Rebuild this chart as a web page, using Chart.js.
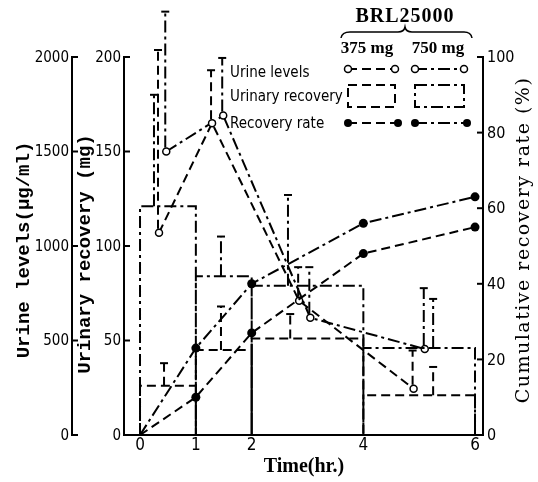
<!DOCTYPE html>
<html>
<head>
<meta charset="utf-8">
<script src="https://cdn.jsdelivr.net/npm/chart.js@4.4.0/dist/chart.umd.min.js"></script>
<style>
  html, body { margin: 0; padding: 0; background: #fff; }
</style>
</head>
<body>
<canvas id="brl-chart" width="538" height="482"></canvas>
<script>
// tick labels
var timeTicks = [0, 1, 2, 4, 6];
var urineTicks = [0, 500, 1000, 1500, 2000];
var mgTicks = [0, 50, 100, 150, 200];
var rateTicks = [0, 20, 40, 60, 80, 100];

// urine levels (ug/ml), open circles
var urineTime375 = [0.34, 1.29, 2.85, 4.9];
var urine375 = [1070, 1650, 710, 245];
var urineSd375 = [967, 280, 178, 202];
var urineTime750 = [0.47, 1.49, 3.05, 5.1];
var urine750 = [1500, 1690, 620, 455];
var urineSd750 = [740, 305, 268, 322];

// urinary recovery (mg) per collection period
var periodEdges = [0, 1, 2, 4, 6];
var recovery375 = [26, 45, 51, 21];
var recovery750 = [121, 84, 79, 46];
var recoverySd375 = [12, 23, 13, 15];
var recoverySd750 = [59, 21, 48, 26];
var recoveryBarTime375 = [0.43, 1.45, 2.69, 5.25];
var recoveryBarTime750 = [0.25, 1.45, 2.65, 5.25];

// cumulative recovery rate (%)
var rateTime = [0, 1, 2, 4, 6];
var rate375 = [0, 10, 27, 48, 55];
var rate750 = [0, 23, 40, 56, 63];

var DASH = [9, 5];
var DASH_DOT = [12, 4, 3, 4];

function pairs(xs, ys) {
  var out = [];
  for (var i = 0; i < xs.length; i++) out.push({x: xs[i], y: ys[i]});
  return out;
}

// each period drawn as an open box from 0 up to the recovered amount
function blockPath(edges, values) {
  var pts = [];
  for (var i = 0; i < values.length; i++) {
    pts.push({x: edges[i], y: 0});
    pts.push({x: edges[i], y: values[i]});
    pts.push({x: edges[i + 1], y: values[i]});
    pts.push({x: edges[i + 1], y: 0});
  }
  return pts;
}

function line(ctx, x1, y1, x2, y2) {
  ctx.beginPath();
  ctx.moveTo(x1, y1);
  ctx.lineTo(x2, y2);
  ctx.stroke();
}

function errorBar(ctx, x, yFrom, yTo, dash) {
  ctx.setLineDash(dash);
  line(ctx, x, yFrom, x, yTo);
  ctx.setLineDash([]);
  line(ctx, x - 4, yTo, x + 4, yTo);
}

var errorBars = {
  id: 'errorBars',
  afterDatasetsDraw: function (chart) {
    var ctx = chart.ctx;
    var sx = chart.scales.x, sm = chart.scales.yMg, su = chart.scales.yUrine;
    ctx.save();
    ctx.strokeStyle = '#000';
    ctx.lineWidth = 2;
    var i;
    for (i = 0; i < urine375.length; i++) {
      errorBar(ctx, sx.getPixelForValue(urineTime375[i]) - 1, su.getPixelForValue(urine375[i]) - 4,
        su.getPixelForValue(urine375[i] + urineSd375[i]), DASH);
    }
    for (i = 0; i < urine750.length; i++) {
      errorBar(ctx, sx.getPixelForValue(urineTime750[i]) - 1, su.getPixelForValue(urine750[i]) - 4,
        su.getPixelForValue(urine750[i] + urineSd750[i]), DASH_DOT);
    }
    for (i = 0; i < recovery375.length; i++) {
      errorBar(ctx, sx.getPixelForValue(recoveryBarTime375[i]), sm.getPixelForValue(recovery375[i]),
        sm.getPixelForValue(recovery375[i] + recoverySd375[i]), DASH);
    }
    for (i = 0; i < recovery750.length; i++) {
      errorBar(ctx, sx.getPixelForValue(recoveryBarTime750[i]), sm.getPixelForValue(recovery750[i]),
        sm.getPixelForValue(recovery750[i] + recoverySd750[i]), DASH_DOT);
    }
    ctx.restore();
  }
};

function vText(ctx, text, x, y) {
  ctx.save();
  ctx.translate(x, y);
  ctx.rotate(-Math.PI / 2);
  ctx.fillText(text, 0, 0);
  ctx.restore();
}

var axesAndKey = {
  id: 'axesAndKey',
  afterDraw: function (chart) {
    var ctx = chart.ctx;
    var sx = chart.scales.x, sm = chart.scales.yMg, su = chart.scales.yUrine, sr = chart.scales.yRate;
    var i, y;
    ctx.save();
    ctx.strokeStyle = '#000';
    ctx.fillStyle = '#000';
    ctx.lineWidth = 2;
    ctx.setLineDash([]);

    // outer left axis: urine levels
    var ux = 72;
    line(ctx, ux, su.getPixelForValue(0), ux, su.getPixelForValue(2000));
    ctx.font = '15px "DejaVu Sans Condensed"';
    ctx.textAlign = 'right';
    ctx.textBaseline = 'middle';
    for (i = 0; i < urineTicks.length; i++) {
      y = su.getPixelForValue(urineTicks[i]);
      line(ctx, ux - 1, y, ux + 6, y);
      ctx.fillText(String(urineTicks[i]), ux - 3, y + 1);
    }

    // inner left axis: urinary recovery
    var mx = chart.chartArea.left;
    line(ctx, mx, sm.getPixelForValue(0), mx, sm.getPixelForValue(200));
    for (i = 0; i < mgTicks.length; i++) {
      y = sm.getPixelForValue(mgTicks[i]);
      line(ctx, mx - 1, y, mx + 6, y);
      ctx.fillText(String(mgTicks[i]), mx - 3, y + 1);
    }

    // time axis
    var by = sm.getPixelForValue(0);
    line(ctx, mx, by, sx.getPixelForValue(6) + 2, by);
    ctx.font = '17px "DejaVu Sans Condensed"';
    ctx.textAlign = 'center';
    ctx.textBaseline = 'top';
    for (i = 0; i < timeTicks.length; i++) {
      ctx.fillText(String(timeTicks[i]), sx.getPixelForValue(timeTicks[i]), by + 2);
    }

    // right axis: cumulative recovery rate
    var rx = chart.chartArea.right;
    line(ctx, rx, sr.getPixelForValue(0), rx, sr.getPixelForValue(100));
    ctx.font = '16px "DejaVu Sans Condensed"';
    ctx.textAlign = 'left';
    ctx.textBaseline = 'middle';
    for (i = 0; i < rateTicks.length; i++) {
      y = sr.getPixelForValue(rateTicks[i]);
      line(ctx, rx - 6, y, rx + 1, y);
      ctx.fillText(String(rateTicks[i]), rx + 4, y + 1);
    }

    // axis titles
    ctx.textAlign = 'center';
    ctx.textBaseline = 'middle';
    ctx.font = 'bold 19px "Liberation Mono"';
    vText(ctx, 'Urine levels(\u03bcg/ml)', 24, 250);
    vText(ctx, 'Urinary recovery (mg)', 85, 254);
    ctx.font = '19px "DejaVu Serif"';
    ctx.letterSpacing = '1.5px';
    vText(ctx, 'Cumulative recovery rate (%)', 524, 240);
    ctx.letterSpacing = '0px';
    ctx.font = 'bold 20px "Liberation Serif"';
    ctx.fillText('Time(hr.)', 304, 467);

    // key
    ctx.font = 'bold 20px "Liberation Serif"';
    ctx.letterSpacing = '1px';
    ctx.fillText('BRL25000', 405, 17);
    ctx.letterSpacing = '0px';
    ctx.lineWidth = 1.5;
    ctx.beginPath();
    ctx.moveTo(341, 38);
    ctx.quadraticCurveTo(342, 32, 350, 32);
    ctx.lineTo(398, 32);
    ctx.quadraticCurveTo(404, 32, 405, 27);
    ctx.quadraticCurveTo(406, 32, 412, 32);
    ctx.lineTo(464, 32);
    ctx.quadraticCurveTo(471, 32, 472, 38);
    ctx.stroke();

    ctx.font = 'bold 17px "Liberation Serif"';
    ctx.fillText('375 mg', 367, 49);
    ctx.fillText('750 mg', 438, 49);

    ctx.font = '15px "DejaVu Sans Condensed"';
    ctx.textAlign = 'left';
    ctx.fillText('Urine levels', 230, 73);
    ctx.fillText('Urinary recovery', 230, 97);
    ctx.fillText('Recovery rate', 230, 124);

    ctx.lineWidth = 2;
    var keys = [[348, 395, DASH], [415, 464, DASH_DOT]];
    for (i = 0; i < keys.length; i++) {
      var a = keys[i][0], b = keys[i][1], d = keys[i][2];
      ctx.setLineDash(d);
      line(ctx, a, 69, b, 69);
      ctx.strokeRect(a, 85, b - a, 22);
      line(ctx, a, 123, b + 3, 123);
      ctx.setLineDash([]);
      ctx.lineWidth = 1.5;
      ctx.fillStyle = '#fff';
      ctx.beginPath(); ctx.arc(a, 69, 3.5, 0, Math.PI * 2); ctx.fill(); ctx.stroke();
      ctx.beginPath(); ctx.arc(b, 69, 3.5, 0, Math.PI * 2); ctx.fill(); ctx.stroke();
      ctx.fillStyle = '#000';
      ctx.beginPath(); ctx.arc(a, 123, 4, 0, Math.PI * 2); ctx.fill();
      ctx.beginPath(); ctx.arc(b + 3, 123, 4, 0, Math.PI * 2); ctx.fill();
      ctx.lineWidth = 2;
    }
    ctx.restore();
  }
};

var openPoint = {
  pointRadius: 3.5,
  pointBorderWidth: 1.5,
  pointBackgroundColor: '#fff',
  pointBorderColor: '#000'
};

function lineSet(data, axis, dash, extra) {
  var ds = {
    data: data,
    yAxisID: axis,
    borderColor: '#000',
    borderWidth: 2,
    borderDash: dash,
    borderCapStyle: 'butt',
    fill: false,
    tension: 0,
    pointRadius: 0
  };
  for (var k in extra) ds[k] = extra[k];
  return ds;
}

var rateDots = {
  pointRadius: [0, 4.5, 4.5, 4.5, 4.5],
  pointBackgroundColor: '#000',
  pointBorderColor: '#000',
  pointBorderWidth: 0
};

new Chart(document.getElementById('brl-chart').getContext('2d'), {
  type: 'line',
  data: {
    datasets: [
      lineSet(blockPath(periodEdges, recovery375), 'yMg', DASH, {}),
      lineSet(blockPath(periodEdges, recovery750), 'yMg', DASH_DOT, {}),
      lineSet(pairs(rateTime, rate375), 'yRate', DASH, rateDots),
      lineSet(pairs(rateTime, rate750), 'yRate', DASH_DOT, rateDots),
      lineSet(pairs(urineTime375, urine375), 'yUrine', DASH, openPoint),
      lineSet(pairs(urineTime750, urine750), 'yUrine', DASH_DOT, openPoint)
    ]
  },
  options: {
    responsive: false,
    animation: false,
    devicePixelRatio: 1,
    layout: { padding: { left: 124, right: 55, top: 57, bottom: 47 } },
    plugins: { legend: { display: false }, tooltip: { enabled: false } },
    scales: {
      x: { type: 'linear', min: -0.287, max: 6.143, display: false },
      yMg: { type: 'linear', position: 'left', min: 0, max: 200, display: false },
      yUrine: { type: 'linear', position: 'left', min: 0, max: 2000, display: false },
      yRate: { type: 'linear', position: 'right', min: 0, max: 100, display: false }
    }
  },
  plugins: [errorBars, axesAndKey]
});
</script>
</body>
</html>
